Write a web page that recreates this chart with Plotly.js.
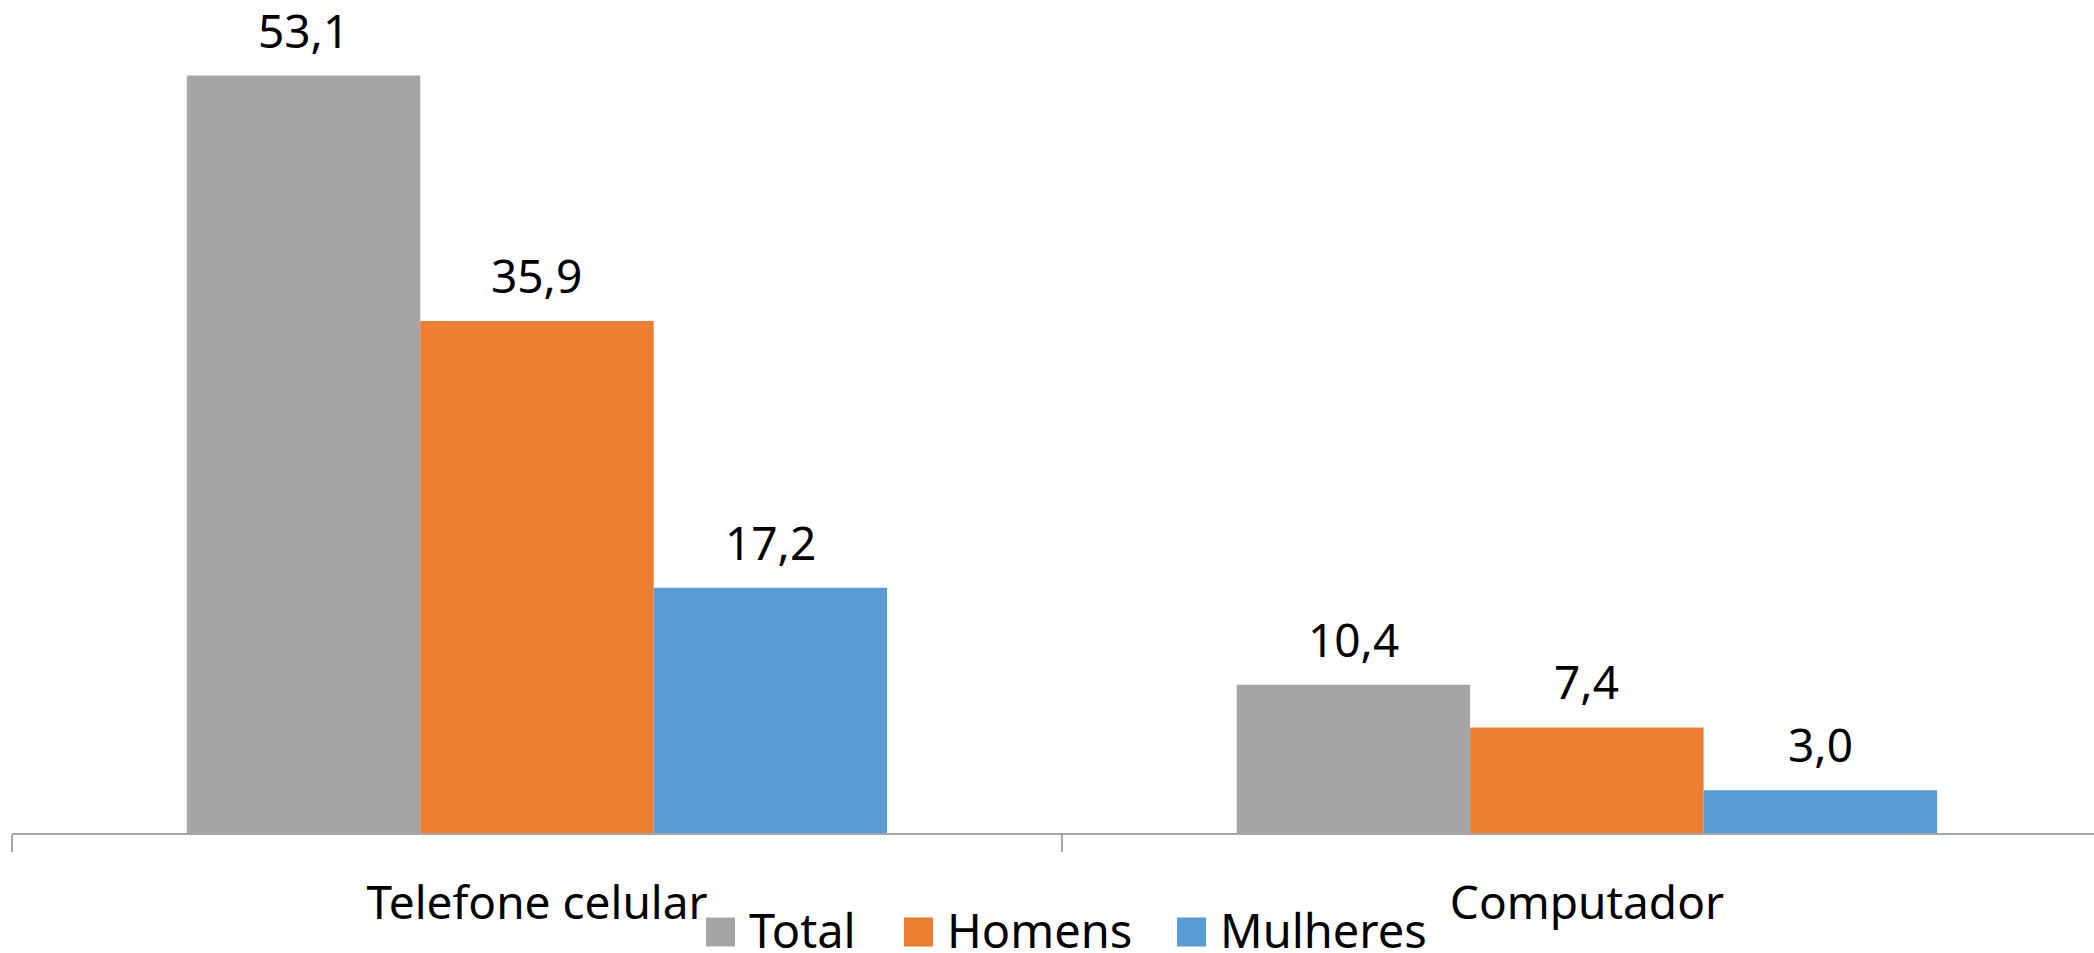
<!DOCTYPE html>
<html>
<head>
<meta charset="utf-8">
<script src="https://cdn.plot.ly/plotly-3.0.1.min.js"></script>
<style>
html,body{margin:0;padding:0;background:#fff;}
#chart{width:2094px;height:953px;}
</style>
</head>
<body>
<div id="chart"></div>
<script>
const categories = ["Telefone celular", "Computador"];
const seriesNames = ["Total", "Homens", "Mulheres"];
const total = [53.1, 10.4];
const homens = [35.9, 7.4];
const mulheres = [17.2, 3.0];
const colors = ["#A5A5A5", "#ED7D31", "#5B9BD5"];

const FONT = "Noto Sans, Open Sans, sans-serif";
const values = [total, homens, mulheres];

const BAR_PX = 233.3;   // pixel width of one bar (style)
const data = values.map((v, i) => ({
  type: "bar",
  name: seriesNames[i],
  x: categories,
  y: v,
  marker: {color: colors[i], line: {width: 0}},
  hoverinfo: "skip"
}));

// value labels placed above each bar through the axes
const annotations = [];
values.forEach((v, i) => {
  v.forEach((val, j) => {
    annotations.push({
      x: categories[j],
      y: val,
      xref: "x",
      yref: "y",
      xshift: (i - 1) * BAR_PX,
      yshift: 13,
      yanchor: "bottom",
      xanchor: "center",
      showarrow: false,
      text: val.toFixed(1).replace(".", ","),
      font: {family: FONT, size: 46, color: "#000"}
    });
  });
});

const layout = {
  width: 2094,
  height: 953,
  margin: {l: 12, r: 0, t: 0, b: 120},
  paper_bgcolor: "#fff",
  plot_bgcolor: "#fff",
  separators: ",.",
  barmode: "group",
  bargap: 0.333,
  bargroupgap: 0,
  font: {family: FONT, size: 46, color: "#000"},
  annotations: annotations,
  xaxis: {
    type: "category",
    range: [-0.5, 1.483],
    showline: true,
    linecolor: "#a6a6a6",
    linewidth: 2,
    ticks: "outside",
    tickson: "boundaries",
    ticklen: 17,
    tickwidth: 2,
    tickcolor: "#a6a6a6",
    ticklabelstandoff: 29,
    tickfont: {family: FONT, size: 46, color: "#000"},
    showgrid: false,
    zeroline: false,
    fixedrange: true
  },
  yaxis: {
    range: [0, 58.4],
    visible: false,
    showgrid: false,
    zeroline: false,
    fixedrange: true
  },
  showlegend: true,
  legend: {
    orientation: "h",
    x: 0.5,
    xanchor: "center",
    y: -0.02,
    yanchor: "top",
    font: {family: FONT, size: 47, color: "#000"},
    bgcolor: "rgba(0,0,0,0)",
    itemclick: false,
    itemdoubleclick: false,
    traceorder: "normal"
  }
};

// legend layout targets (text left edge, text baseline, square size, gap)
const LEG_TEXT_LEFT = [749, 947, 1220];
const LEG_BASELINE = 948;
const LEG_SQ = 29;
const LEG_GAP = 14;

function parseTranslate(el) {
  const t = el.getAttribute("transform") || "";
  const m = t.match(/translate\(\s*([-\d.e]+)[ ,]+([-\d.e]+)\s*\)/);
  return m ? [parseFloat(m[1]), parseFloat(m[2])] : [0, 0];
}

Plotly.newPlot("chart", data, layout, {displayModeBar: false, staticPlot: true}).then(() => {
  const sb = document.querySelector(".legend .scrollbox");
  if (sb) sb.removeAttribute("clip-path");
  const legendEl = document.querySelector(".legend");
  if (legendEl) legendEl.removeAttribute("clip-path");
  const items = document.querySelectorAll(".legend .traces");
  items.forEach((g, i) => {
    const text = g.querySelector(".legendtext");
    if (!text || i >= LEG_TEXT_LEFT.length) return;
    const r = text.getBoundingClientRect();
    const ctm = text.getScreenCTM();
    const baseline = ctm.f + parseFloat(text.getAttribute("y") || 0);
    const [tx, ty] = parseTranslate(g);
    g.setAttribute("transform", `translate(${tx + LEG_TEXT_LEFT[i] - r.left},${ty + LEG_BASELINE - baseline})`);
  });
  items.forEach((g, i) => {
    const text = g.querySelector(".legendtext");
    const path = g.querySelector(".legendpoints path");
    if (!text || !path) return;
    const r = text.getBoundingClientRect();
    const ctm = text.getScreenCTM();
    const baseline = ctm.f + parseFloat(text.getAttribute("y") || 0);
    path.removeAttribute("transform");
    const pc = path.parentNode.getScreenCTM();
    const cx = r.left - LEG_GAP - LEG_SQ / 2;
    const cy = baseline - 16;
    path.setAttribute("transform", `translate(${cx - pc.e},${cy - pc.f}) scale(${LEG_SQ / 12})`);
  });
});
</script>
</body>
</html>
